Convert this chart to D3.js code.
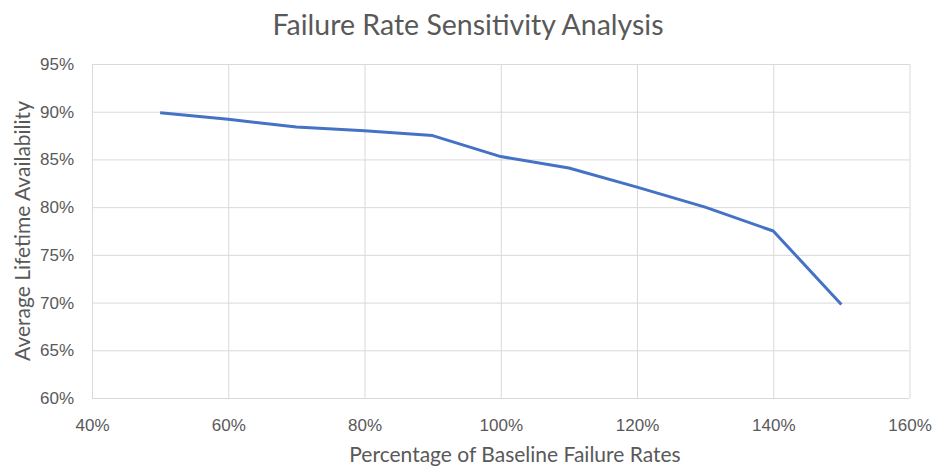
<!DOCTYPE html>
<html>
<head>
<meta charset="utf-8">
<script src="https://cdn.jsdelivr.net/npm/d3@7"></script>
<style>
  html, body { margin: 0; padding: 0; background: #fff; }
  svg { display: block; font-family: Lato, "Open Sans", sans-serif; }
</style>
</head>
<body>
<svg id="chart" width="934" height="466"></svg>
<script>
// Failure rate multiplier (% of baseline) and resulting average lifetime availability (%)
const failureRatePct = [50, 60, 70, 80, 90, 100, 110, 120, 130, 140, 150];
const availabilityPct = [89.9, 89.2, 88.4, 88.0, 87.5, 85.3, 84.1, 82.1, 80.0, 77.5, 69.8];
const xTicks = [40, 60, 80, 100, 120, 140, 160];
const yTicks = [60, 65, 70, 75, 80, 85, 90, 95];

const svg = d3.select("#chart");
const margin = { top: 64, right: 24, bottom: 68, left: 92 };
const width = 934, height = 466;

const x = d3.scaleLinear().domain([40, 160]).range([margin.left, width - margin.right - 0.5]);
const y = d3.scaleLinear().domain([60, 95]).range([height - margin.bottom, margin.top]);

const grid = "#d9d9d9";
const textCol = "#595959";

// vertical gridlines
svg.append("g")
  .attr("transform", `translate(0,${margin.top})`)
  .call(d3.axisBottom(x).tickValues(xTicks).tickSize(y(60) - y(95)).tickFormat(""))
  .call(g => g.select(".domain").remove())
  .call(g => g.selectAll("line").attr("stroke", grid).attr("stroke-width", 1));

// horizontal gridlines
svg.append("g")
  .attr("transform", `translate(${margin.left},0)`)
  .call(d3.axisRight(y).tickValues(yTicks).tickSize(x(160) - x(40)).tickFormat(""))
  .call(g => g.select(".domain").remove())
  .call(g => g.selectAll("line").attr("stroke", grid).attr("stroke-width", 1));

// x tick labels
svg.append("g")
  .attr("transform", `translate(0,${y(60)})`)
  .call(d3.axisBottom(x).tickValues(xTicks).tickSize(0).tickPadding(21).tickFormat(d => d + "%"))
  .call(g => g.select(".domain").remove())
  .call(g => g.selectAll("text").attr("fill", textCol).attr("font-size", 17));

// y tick labels
svg.append("g")
  .attr("transform", `translate(${x(40)},0)`)
  .call(d3.axisLeft(y).tickValues(yTicks).tickSize(0).tickPadding(18).tickFormat(d => d + "%"))
  .call(g => g.select(".domain").remove())
  .call(g => g.selectAll("text").attr("fill", textCol).attr("font-size", 17));

// data line
const data = failureRatePct.map((v, i) => ({ x: v, y: availabilityPct[i] }));
svg.append("path")
  .datum(data)
  .attr("fill", "none")
  .attr("stroke", "#4472C4")
  .attr("stroke-width", 3)
  .attr("stroke-linejoin", "round")
  .attr("d", d3.line().x(d => x(d.x)).y(d => y(d.y)));

// title
svg.append("text")
  .attr("x", 468)
  .attr("y", 35)
  .attr("text-anchor", "middle")
  .attr("fill", textCol)
  .attr("font-size", 28.5)
  .text("Failure Rate Sensitivity Analysis");

// axis titles
svg.append("text")
  .attr("x", 515)
  .attr("y", 462)
  .attr("text-anchor", "middle")
  .attr("fill", textCol)
  .attr("font-size", 21)
  .text("Percentage of Baseline Failure Rates");

svg.append("text")
  .attr("transform", `translate(30,${(y(60) + y(95)) / 2}) rotate(-90)`)
  .attr("text-anchor", "middle")
  .attr("fill", textCol)
  .attr("font-size", 21)
  .text("Average Lifetime Availability");
</script>
</body>
</html>
